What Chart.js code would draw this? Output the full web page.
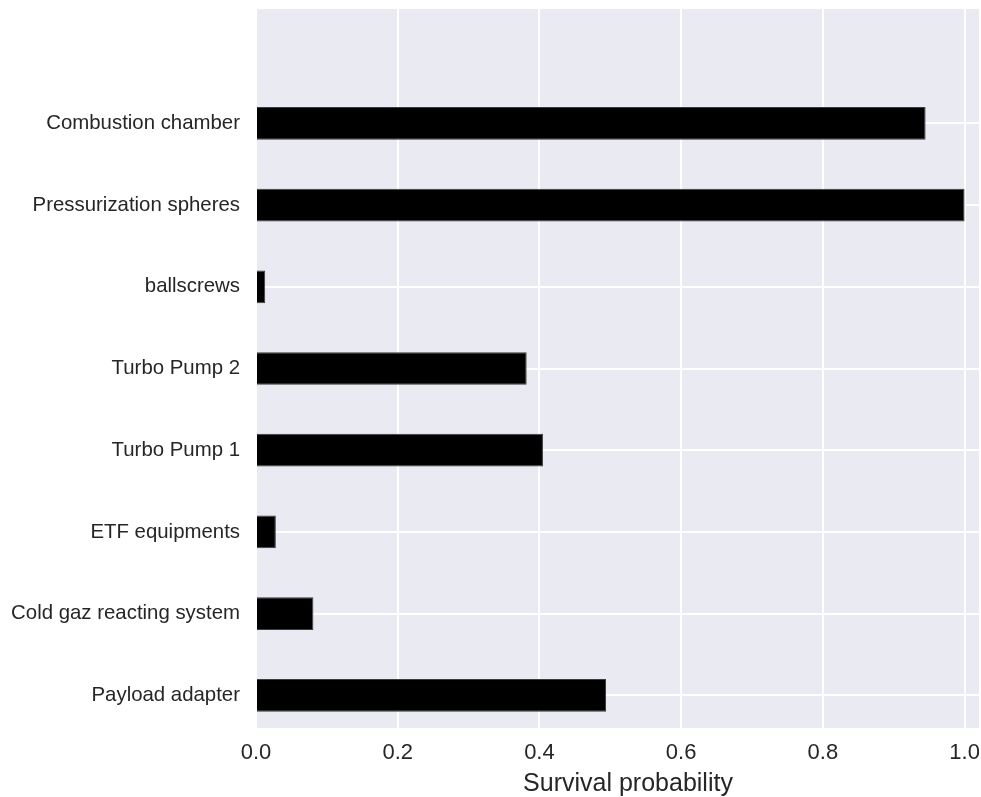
<!DOCTYPE html>
<html>
<head>
<meta charset="utf-8">
<script src="https://cdn.jsdelivr.net/npm/chart.js@4"></script>
<style>
    body { margin: 0; background: #ffffff; }
    /* the original figure is cut off at the right edge of the axes */
    #clip { width: 979px; height: 797px; overflow: hidden; }
    #wrap { width: 1001px; height: 797px; position: relative; }
</style>
</head>
<body>
<div id="clip"><div id="wrap"><canvas id="surv"></canvas></div></div>
<script>
// components, listed top to bottom as in the figure
const categories = [
    "Combustion chamber",
    "Pressurization spheres",
    "ballscrews",
    "Turbo Pump 2",
    "Turbo Pump 1",
    "ETF equipments",
    "Cold gaz reacting system",
    "Payload adapter"
];
const survival = [0.945, 1.0, 0.013, 0.382, 0.405, 0.028, 0.081, 0.494];
const xTicks = [0.0, 0.2, 0.4, 0.6, 0.8, 1.0];

const textColor = "#262626";
const font = "'Liberation Sans', Arial, sans-serif";

// matplotlib puts the first item at the bottom (y = 0)
const n = categories.length;
const points = categories.map((c, i) => ({ x: survival[i], y: n - 1 - i }));

// seaborn-ish grey panel behind the plot
const panelBg = {
    id: "panelBg",
    beforeDraw(chart) {
        const { ctx, chartArea: a } = chart;
        ctx.save();
        ctx.fillStyle = "#EAEAF2";
        ctx.fillRect(a.left, a.top, a.right - a.left, a.bottom - a.top);
        ctx.restore();
    }
};

new Chart(document.getElementById("surv"), {
    type: "bar",
    data: {
        datasets: [{
            label: "Survival probability",
            data: points,
            backgroundColor: "#000000",
            borderColor: "#3c3c3c",
            borderWidth: 1,
            categoryPercentage: 1.0,
            barPercentage: 0.4
        }]
    },
    options: {
        indexAxis: "y",
        responsive: true,
        maintainAspectRatio: false,
        animation: false,
        layout: { padding: { top: 9, right: 1, left: 0, bottom: 0 } },
        plugins: {
            legend: { display: false },
            tooltip: { enabled: false }
        },
        scales: {
            x: {
                type: "linear",
                min: 0,
                max: 1.05,
                afterBuildTicks: s => { s.ticks = xTicks.map(v => ({ value: v })); },
                afterFit: s => {
                    s.height = 69;
                    s.paddingLeft = 0;
                    s.paddingRight = 0;
                },
                ticks: {
                    color: textColor,
                    font: { family: font, size: 22 },
                    padding: 12,
                    callback: v => Number(v).toFixed(1)
                },
                grid: { color: "#ffffff", lineWidth: 2, drawTicks: false },
                border: { display: false },
                title: {
                    display: true,
                    text: "Survival probability",
                    color: textColor,
                    font: { family: font, size: 25, lineHeight: 1.0 },
                    padding: { top: 0, bottom: 0 }
                }
            },
            y: {
                type: "linear",
                offset: false,
                min: -0.4,
                max: 8.4,
                afterBuildTicks: s => { s.ticks = categories.map((c, i) => ({ value: i })); },
                afterFit: s => {
                    s.width = 256;
                    s.paddingTop = 0;
                    s.paddingBottom = 0;
                },
                ticks: {
                    color: textColor,
                    font: { family: font, size: 20.4 },
                    padding: 16,
                    callback: v => categories[n - 1 - v]
                },
                grid: { color: "#ffffff", lineWidth: 2, drawTicks: false, offset: false },
                border: { display: false }
            }
        }
    },
    plugins: [panelBg]
});
</script>
</body>
</html>
